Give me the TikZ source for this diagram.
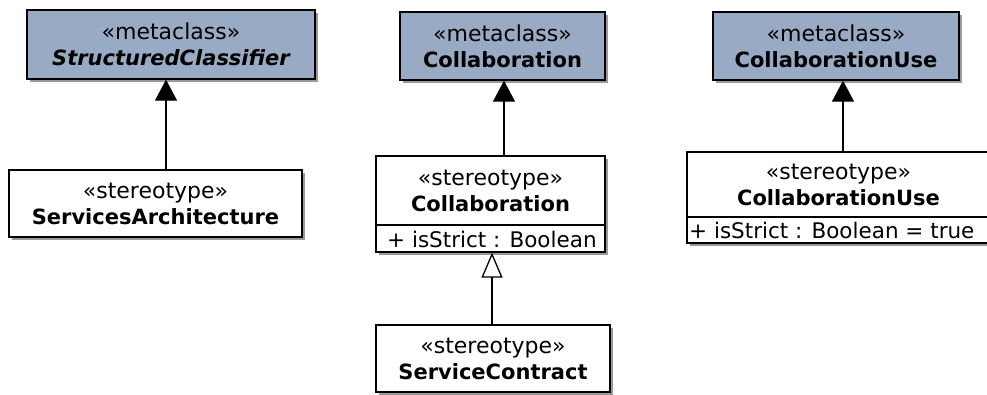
\documentclass[tikz,border=0pt]{standalone}
\usepackage{fontspec}
\setmainfont{DejaVu Sans}
\usetikzlibrary{arrows.meta,shadows}
\definecolor{metafill}{RGB}{153,170,196}
\newcommand{\stl}[1]{{\fontsize{22}{26}\selectfont #1}}
\newcommand{\nml}[1]{{\fontsize{21}{26}\selectfont\bfseries #1}}
\tikzset{
  umlbox/.style={draw=black, line width=1.3pt, fill=white, inner sep=0pt, align=center,
    font=\fontsize{22}{26}\selectfont,
    drop shadow={shadow xshift=2.5pt, shadow yshift=-2.5pt, fill=black!40, opacity=1}},
  metabox/.style={umlbox, fill=metafill},
  attrtext/.style={inner sep=0pt, anchor=west, font=\fontsize{21.5}{26}\selectfont},
  genline/.style={line width=1.3pt, -{Triangle[width=22pt,length=21pt]}},
  realline/.style={line width=1.3pt, -{Triangle[open,width=21pt,length=25pt,fill=white]}}
}
\begin{document}
\begin{tikzpicture}[x=1pt,y=-1pt]
\useasboundingbox (0,0) rectangle (987,394);
\clip (0,0) rectangle (987,394);
% column 1
\node[metabox, minimum width=288pt, minimum height=69pt] (sc) at (171,44.5)
  {\stl{«metaclass»}\\[0pt]{\fontsize{21}{26}\selectfont\bfseries\itshape StructuredClassifier}};
\node[umlbox, minimum width=293pt, minimum height=67pt] (sa) at (155.5,203.5)
  {\stl{«stereotype»}\\[0pt]\nml{ServicesArchitecture}};
\coordinate (x1) at (166,0);
\draw[genline] (sa.north -| x1) -- (sc.south -| x1);
% column 2
\node[metabox, minimum width=205pt, minimum height=68pt] (mc) at (502.5,46)
  {\stl{«metaclass»}\\[0pt]\nml{Collaboration}};
\node[umlbox, minimum width=229pt, minimum height=69pt] (co) at (490.5,190.5)
  {\stl{«stereotype»}\\[0pt]\nml{Collaboration}};
\node[umlbox, minimum width=229pt, minimum height=27pt] (ca) at (490.5,238.5) {};
\node[attrtext] (cat) at (387,239) {+ isStrict : Boolean};
\node[umlbox, minimum width=234pt, minimum height=67pt] (sv) at (493,358.5)
  {\stl{«stereotype»}\\[0pt]\nml{ServiceContract}};
\coordinate (x2) at (504,0);
\coordinate (x3) at (492,0);
\draw[genline] (co.north -| x2) -- (mc.south -| x2);
\draw[realline] (sv.north -| x3) -- (ca.south -| x3);
% column 3
\node[metabox, minimum width=246pt, minimum height=68pt] (mu) at (836,46)
  {\stl{«metaclass»}\\[0pt]\nml{CollaborationUse}};
\node[umlbox, minimum width=303pt, minimum height=65pt] (us) at (838.5,184.5)
  {\stl{«stereotype»}\\[0pt]\nml{CollaborationUse}};
\node[umlbox, minimum width=303pt, minimum height=26pt] (ua) at (838.5,230) {};
\node[attrtext] (uat) at (689,230.5) {+ isStrict : Boolean = true};
\coordinate (x4) at (843,0);
\draw[genline] (us.north -| x4) -- (mu.south -| x4);
\end{tikzpicture}
\end{document}
